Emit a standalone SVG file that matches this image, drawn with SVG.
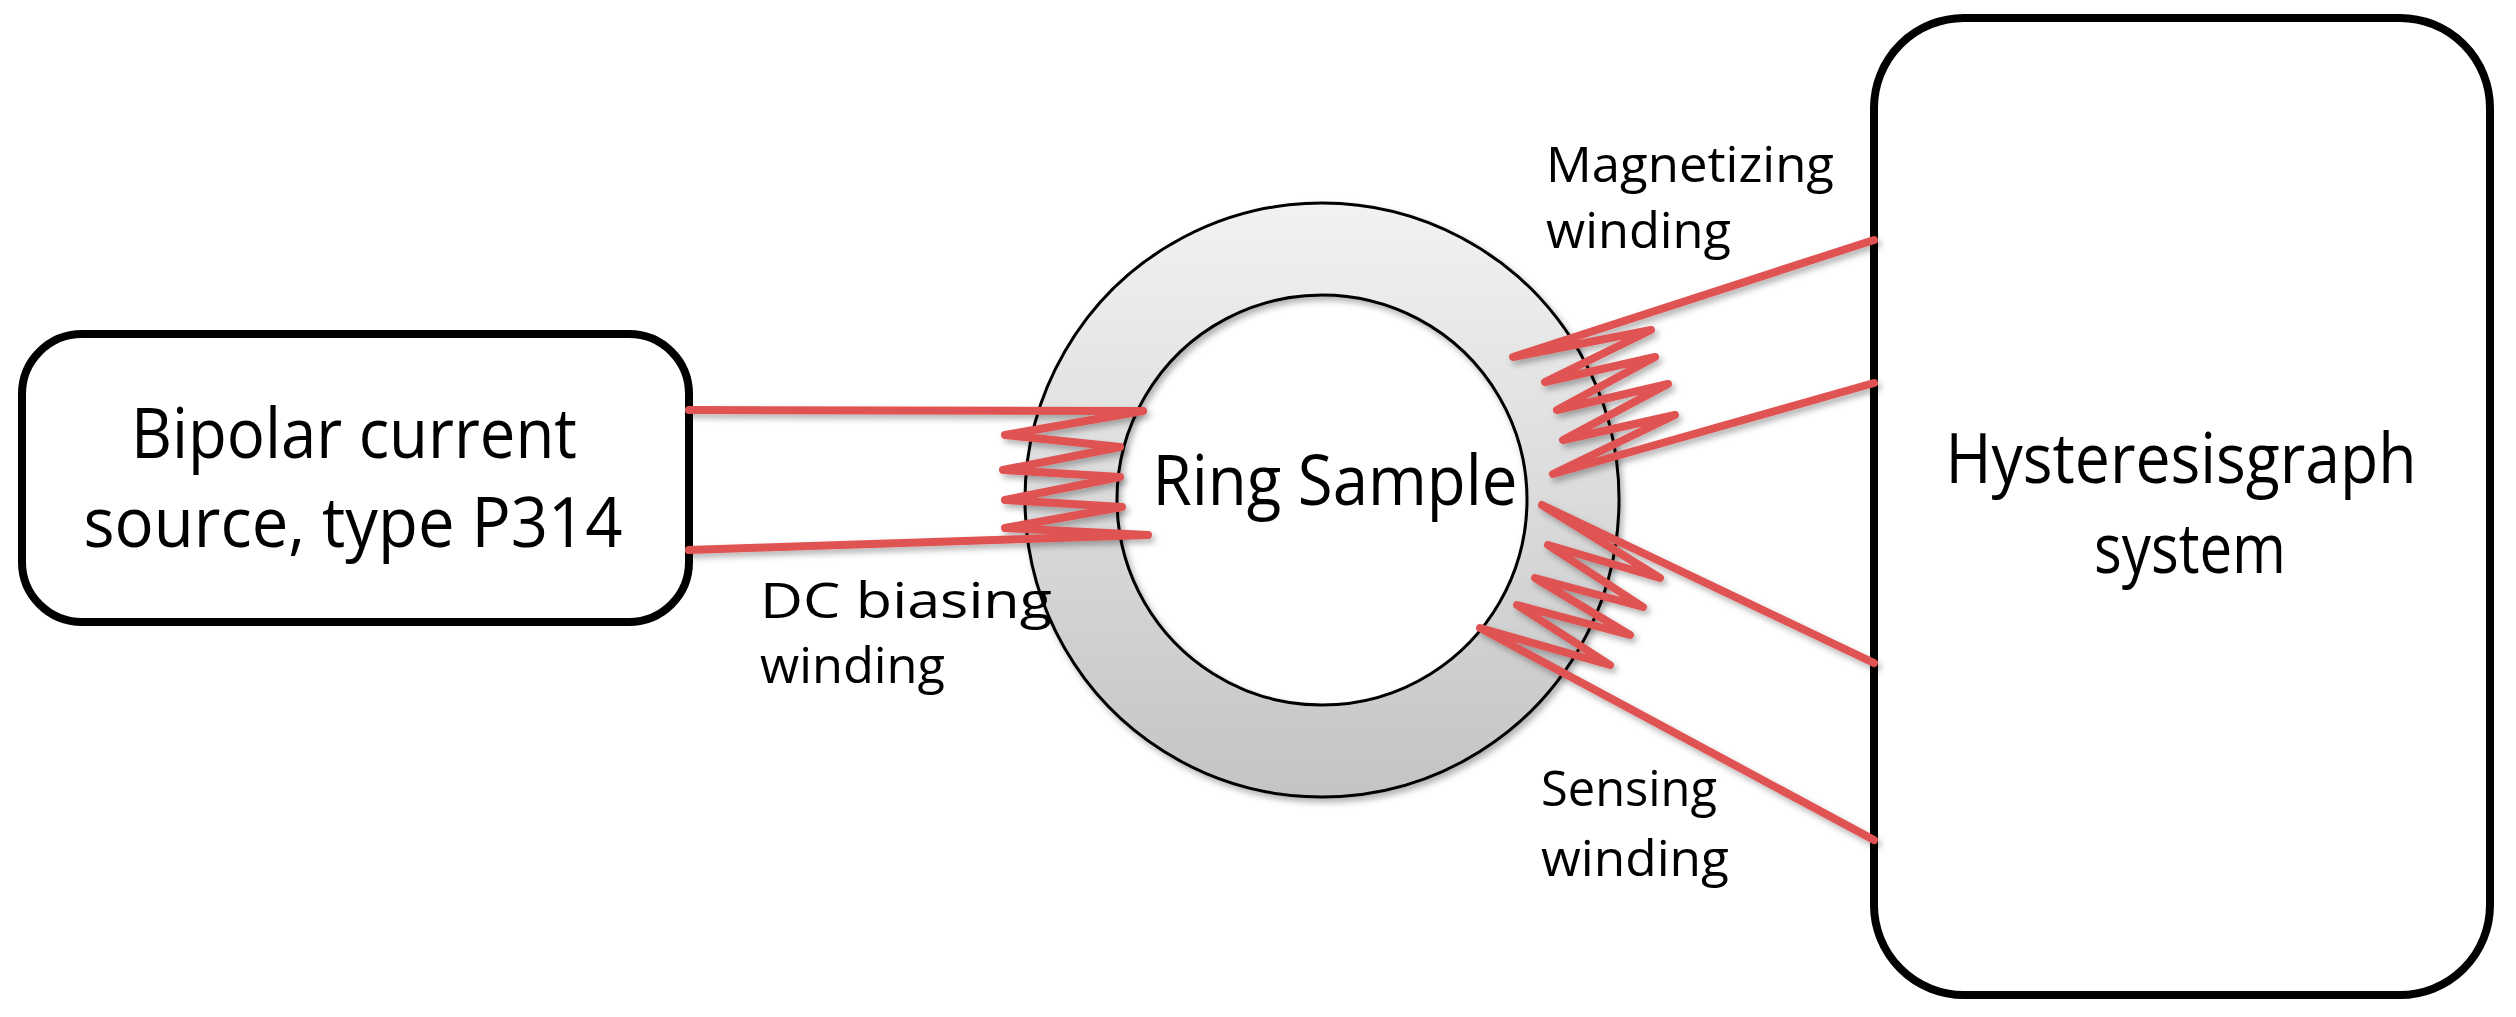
<svg xmlns="http://www.w3.org/2000/svg" width="2516" height="1017" viewBox="0 0 2516 1017">
<style>
.box{fill:#fff;stroke:#000;stroke-width:8}
.wire{fill:none;stroke:#e05252;stroke-width:8;stroke-linecap:round;stroke-linejoin:round}
.big{font-family:"Open Sans","Noto Sans",sans-serif;font-size:70px;fill:#000}
.lbl{font-family:"Open Sans","Noto Sans",sans-serif;font-size:50px;fill:#000}
</style>
<defs>
<linearGradient id="rg" x1="0" y1="0" x2="0" y2="1">
<stop offset="0" stop-color="#f2f2f2"/><stop offset="1" stop-color="#c4c4c4"/>
</linearGradient>
<filter id="sh" x="-10%" y="-10%" width="130%" height="130%">
<feDropShadow dx="3" dy="4" stdDeviation="3" flood-color="#000" flood-opacity="0.3"/>
</filter>
</defs>
<rect width="2516" height="1017" fill="#fff"/>
<g id="ring">
<path d="M1322,203 a297,297 0 1,0 0.01,0 Z M1322,295 a205,205 0 1,1 -0.01,0 Z" fill="url(#rg)" fill-rule="evenodd" stroke="#000" stroke-width="3" filter="url(#sh)"/>
<text class="big" x="1335" y="505" text-anchor="middle" textLength="365" lengthAdjust="spacingAndGlyphs">Ring Sample</text>
</g>
<g id="source">
<rect class="box" x="22" y="334" width="667" height="288" rx="60"/>
<text class="big" x="354" y="458" text-anchor="middle" textLength="446" lengthAdjust="spacingAndGlyphs">Bipolar current</text>
<text class="big" x="353" y="547" text-anchor="middle" textLength="539" lengthAdjust="spacingAndGlyphs">source, type P314</text>
</g>
<g id="hysteresisgraph">
<rect class="box" x="1874" y="18" width="616" height="977" rx="90"/>
<text class="big" x="2181" y="483" text-anchor="middle" textLength="471" lengthAdjust="spacingAndGlyphs">Hysteresisgraph</text>
<text class="big" x="2190" y="573" text-anchor="middle" textLength="192" lengthAdjust="spacingAndGlyphs">system</text>
</g>
<g id="connectors" filter="url(#sh)">
<polyline class="wire" points="689,410 1143,411 1005,435 1120,447 1003,470 1120,477 1005,500 1122,507 1005,528 1148,535 689,550"/>
<polyline class="wire" points="1874,240 1513,357 1651,330 1545,382 1655,357 1557,410 1668,384 1563,440 1675,415 1553,474 1874,383"/>
<polyline class="wire" points="1874,663 1542,505 1660,578 1548,545 1643,607 1535,578 1630,635 1517,605 1610,665 1480,628 1874,840"/>
</g>
<g id="labels">
<text class="lbl" x="1546" y="182" textLength="288" lengthAdjust="spacingAndGlyphs">Magnetizing</text>
<text class="lbl" x="1546" y="248" textLength="185" lengthAdjust="spacingAndGlyphs">winding</text>
<text class="lbl" x="760" y="618" textLength="292" lengthAdjust="spacingAndGlyphs">DC biasing</text>
<text class="lbl" x="760" y="683" textLength="185" lengthAdjust="spacingAndGlyphs">winding</text>
<text class="lbl" x="1541" y="806" textLength="176" lengthAdjust="spacingAndGlyphs">Sensing</text>
<text class="lbl" x="1541" y="876" textLength="188" lengthAdjust="spacingAndGlyphs">winding</text>
</g>
</svg>
